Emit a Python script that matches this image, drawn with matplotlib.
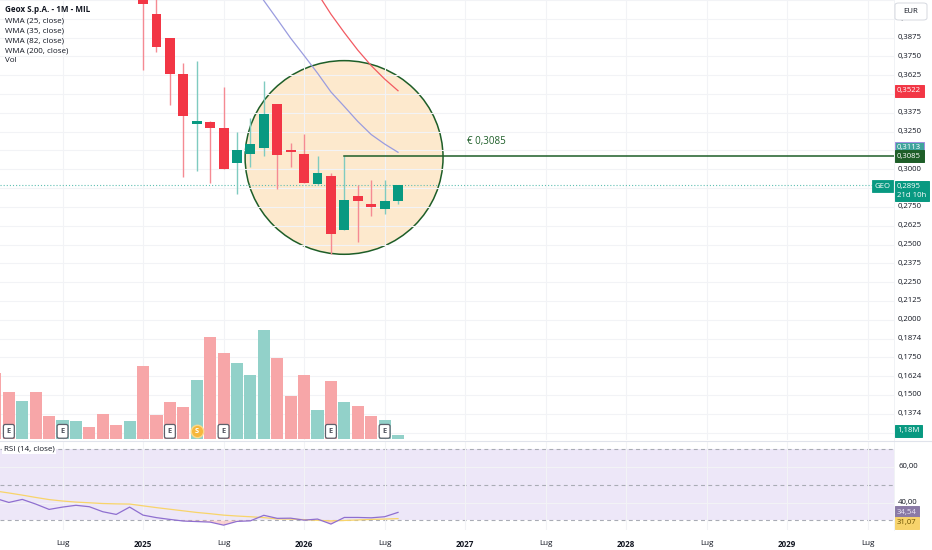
import matplotlib
matplotlib.use("Agg")
import matplotlib.pyplot as plt
import matplotlib.transforms as mtransforms
from matplotlib.patches import Ellipse, FancyBboxPatch
from matplotlib.lines import Line2D
import numpy as np

plt.rcParams['font.family'] = ['Open Sans', 'DejaVu Sans']

# ---------------- data ----------------
months = ["2024-02", "2024-03", "2024-04", "2024-05", "2024-06", "2024-07", "2024-08",
          "2024-09", "2024-10", "2024-11", "2024-12",
          "2025-01", "2025-02", "2025-03", "2025-04", "2025-05", "2025-06", "2025-07",
          "2025-08", "2025-09", "2025-10", "2025-11", "2025-12",
          "2026-01", "2026-02", "2026-03", "2026-04", "2026-05", "2026-06", "2026-07", "2026-08"]

opens = [0.660, 0.630, 0.600, 0.620, 0.580, 0.550, 0.570, 0.580, 0.540, 0.500, 0.460,
         0.470, 0.4032, 0.3873, 0.3630, 0.3302, 0.3313, 0.3273, 0.3043, 0.3103, 0.3140, 0.3432, 0.3125,
         0.3101, 0.2904, 0.2955, 0.2594, 0.2822, 0.2767, 0.2738, 0.2789]
highs = [0.680, 0.650, 0.640, 0.630, 0.590, 0.580, 0.600, 0.590, 0.550, 0.510, 0.490,
         0.480, 0.4180, 0.3873, 0.3707, 0.3720, 0.3319, 0.3550, 0.3251, 0.3342, 0.3590, 0.3432, 0.3174,
         0.3233, 0.3087, 0.2973, 0.3085, 0.2893, 0.2926, 0.2926, 0.2893]
lows = [0.620, 0.580, 0.590, 0.570, 0.540, 0.540, 0.550, 0.530, 0.490, 0.450, 0.440,
        0.3663, 0.3777, 0.3424, 0.2946, 0.2988, 0.2908, 0.2999, 0.2833, 0.3014, 0.3087, 0.2866, 0.3014,
        0.2911, 0.2898, 0.2439, 0.2594, 0.2517, 0.2687, 0.2705, 0.2771]
closes = [0.630, 0.600, 0.620, 0.580, 0.550, 0.570, 0.580, 0.540, 0.500, 0.460, 0.470,
          0.4099, 0.3815, 0.3630, 0.3357, 0.3324, 0.3273, 0.2999, 0.3130, 0.3165, 0.3369, 0.3092, 0.3118,
          0.2911, 0.2973, 0.2572, 0.2793, 0.2787, 0.2752, 0.2787, 0.2895]

volumes_m = [19.8, 14.1, 11.4, 14.1, 6.9, 5.7, 5.4, 3.6, 7.5, 4.2, 5.4,
             21.9, 7.2, 11.1, 9.6, 17.7, 30.6, 25.8, 22.8, 19.2, 32.7, 24.3, 12.9,
             19.2, 8.7, 17.4, 11.1, 9.9, 6.9, 5.7, 1.18]

nan = float('nan')
wma25 = [nan] * 18 + [0.4386, 0.4253, 0.4121, 0.3997, 0.3871,
                      0.3756, 0.3639, 0.3514, 0.3417, 0.3318, 0.3231, 0.3168, 0.3113]
wma35 = [nan] * 22 + [0.4430, 0.4300, 0.4170, 0.4031, 0.3908, 0.3792, 0.3689, 0.3600, 0.3522]

rsi = [42.4, 40.1, 41.8, 39.2, 36.2, 37.5, 38.5, 37.7, 34.9, 33.4, 37.5,
       33.0, 31.6, 30.6, 29.7, 29.4, 29.1, 27.4, 29.5, 29.8, 32.9, 31.2, 31.3,
       30.2, 30.8, 28.0, 31.7, 31.7, 31.5, 32.1, 34.54]
rsi_ma = [46.5, 45.4, 44.2, 42.9, 41.7, 40.9, 40.3, 39.9, 39.5, 39.3, 39.2,
          38.2, 37.2, 36.3, 35.4, 34.5, 33.8, 33.0, 32.5, 32.1, 31.6, 30.9, 30.8,
          30.5, 30.1, 29.8, 30.0, 30.3, 30.6, 30.8, 31.07]

earnings_months = ["2024-03", "2024-07", "2025-03", "2025-07", "2026-03", "2026-07"]
split_months = ["2025-05"]

level = 0.3085
level_month = "2026-04"

tick_labels = ["Lug", "2025", "Lug", "2026", "Lug", "2027", "Lug", "2028", "Lug", "2029", "Lug"]
tick_months = [(2024, 7), (2025, 1), (2025, 7), (2026, 1), (2026, 7), (2027, 1),
               (2027, 7), (2028, 1), (2028, 7), (2029, 1), (2029, 7)]

price_ticks = [0.4000, 0.3875, 0.3750, 0.3625, 0.3375, 0.3250, 0.3000, 0.2750, 0.2625,
               0.2500, 0.2375, 0.2250, 0.2125, 0.2000, 0.1874, 0.1750, 0.1624, 0.1500, 0.1374]

# ---------------- style ----------------
RED = '#F23645'
GREEN = '#089981'
RED_WICK = '#f58a93'
GREEN_WICK = '#7fcbc0'
VOL_RED = '#f7a6a8'
VOL_GREEN = '#92d1c9'
GRID = '#f2f3f6'
TXT = '#131722'
DKGREEN = '#1e5e28'

W, H = 932, 550
fig = plt.figure(figsize=(W / 100, H / 100), dpi=100)
fig.patch.set_facecolor('white')

PANE_R = 894  # right edge of panes in px


def rect(x0, y0, x1, y1):
    return [x0 / W, 1 - y1 / H, (x1 - x0) / W, (y1 - y0) / H]


x = np.arange(len(months))


def mpos(y, m):
    return (y - 2024) * 12 + (m - 2)


xlim = (0.34, 66.96)

ax = fig.add_axes(rect(0, 0, PANE_R, 440))
axv = fig.add_axes(rect(0, 0, PANE_R, 440))
axr = fig.add_axes(rect(0, 441, PANE_R, 530))
ax.set_zorder(0)
axv.set_zorder(1)
axv.patch.set_visible(False)

for a in (ax, axv, axr):
    for s in a.spines.values():
        s.set_visible(False)
    a.set_xlim(*xlim)

ax.set_ylim(0.12008, 0.41205)
axv.set_ylim(-0.3, 131.7)
axr.set_ylim(24.68, 74.48)

tpos = [mpos(y, m) for (y, m) in tick_months]

# grid
ax.set_xticks(tpos)
ax.set_yticks(np.arange(0.125, 0.42, 0.0125))
ax.tick_params(left=False, bottom=False, labelleft=False, labelbottom=False)
ax.grid(True, color=GRID, lw=0.8)
axv.set_xticks([]); axv.set_yticks([])
axr.set_yticks([40, 60])
axr.set_xticks(tpos)
axr.grid(True, color=GRID, lw=0.8)
axr.tick_params(left=False, labelleft=False, length=0, pad=7)
axr.set_xticklabels(tick_labels, fontsize=5.8, color=TXT)
for lab in axr.get_xticklabels():
    if lab.get_text().isdigit():
        lab.set_fontweight('bold')

# ellipse annotation
li = months.index(level_month)
ell = Ellipse((li - 0.02, 0.30785), width=14.75, height=0.1287,
              facecolor='#fde9cd', edgecolor=DKGREEN, lw=1.1, zorder=1)
ax.add_patch(ell)

# candles
up = [c >= o for o, c in zip(opens, closes)]
for i in x:
    wc = GREEN_WICK if up[i] else RED_WICK
    ax.vlines(i, lows[i], highs[i], color=wc, lw=1.0, zorder=3)
bot = [min(o, c) for o, c in zip(opens, closes)]
hgt = [max(abs(c - o), 0.0007) for o, c in zip(opens, closes)]
ax.bar(x, hgt, bottom=bot, width=0.74, color=[GREEN if u else RED for u in up],
       edgecolor='none', zorder=4)

# WMA lines
ax.plot(x, wma25, color='#9a9cdf', lw=0.9, zorder=5)
ax.plot(x, wma35, color='#f25a62', lw=0.9, zorder=5)

# level line and text
ax.plot([li, xlim[1]], [level, level], color=DKGREEN, lw=1.1, zorder=6)
ax.annotate("€ 0,3085", xy=(35.14, level), xytext=(0, 6.5), textcoords='offset points',
            fontsize=7, color=DKGREEN, ha='left', va='bottom', zorder=6)

# current price dotted
ax.axhline(closes[-1], color='#5fbfb2', lw=0.8, ls=(0, (1, 1.8)), zorder=2)

# volume
axv.bar(x, volumes_m, width=0.9, color=[VOL_GREEN if u else VOL_RED for u in up],
        edgecolor='none', zorder=2)
for m in earnings_months:
    axv.text(months.index(m), 2.3, "E", fontsize=5.4, color='#50535e', ha='center', va='center',
             fontweight='bold', zorder=5,
             bbox=dict(boxstyle='round,pad=0.45,rounding_size=0.25', fc='white', ec='#5d606b', lw=0.9))
for m in split_months:
    xi = months.index(m)
    axv.scatter([xi], [2.3], s=80, color='#f6b73c', zorder=5, edgecolors='#fbd88a', linewidths=1.0)
    axv.text(xi, 2.3, "S", fontsize=5.4, color='white', ha='center', va='center',
             fontweight='bold', zorder=6)

# RSI
axr.axhspan(30, 70, color='#ede7f8', zorder=0, lw=0)
for lv in (70, 50, 30):
    axr.axhline(lv, color='#a9acb5', lw=0.8, ls=(0, (3.5, 3)), zorder=1)
r = np.array(rsi)
axr.fill_between(x, r, 30, where=r < 30, interpolate=True, color='#f7b6b6', alpha=0.6, zorder=2, lw=0)
axr.plot(x, rsi_ma, color='#f8d46a', lw=0.9, zorder=3)
axr.plot(x, rsi, color='#8f6fd0', lw=0.9, zorder=4)
axr.text(0.004, 70, "RSI (14, close)", transform=mtransforms.blended_transform_factory(axr.transAxes, axr.transData),
         fontsize=5.8, color=TXT, ha='left', va='center', zorder=6,
         bbox=dict(boxstyle='square,pad=0.15', fc='white', ec='none'))

# legend text
legend_lines = [("Geox S.p.A. - 1M - MIL", 'bold'), ("WMA (25, close)", 'normal'),
                ("WMA (35, close)", 'normal'), ("WMA (82, close)", 'normal'),
                ("WMA (200, close)", 'normal'), ("Vol", 'normal')]
ys = [10, 20.5, 30.5, 41, 51, 61]
for (t, fw), yy in zip(legend_lines, ys):
    fig.text(5 / W, 1 - yy / H, t, fontsize=5.8, color=TXT, fontweight=fw, ha='left', va='center')

# right price scale labels
bt = mtransforms.blended_transform_factory(ax.transAxes, ax.transData)
xr = 898 / PANE_R
for p in price_ticks:
    ax.text(xr, p, f"{p:.4f}".replace('.', ','), transform=bt, fontsize=5.6, color=TXT,
            ha='left', va='center', clip_on=False)


def tag(a, val, text, fc, tc, dy=0, ec=None, va='center', trans=None):
    a.annotate(text, xy=(1.0, val), xycoords=trans, xytext=(2.2, dy), textcoords='offset points',
               fontsize=5.6, color=tc, ha='left', va=va, zorder=20, annotation_clip=False,
               linespacing=1.25,
               bbox=dict(boxstyle='square,pad=0.32', fc=fc, ec=ec or fc, lw=0.7))


tag(ax, wma35[-1], "0,3522", RED, 'white', trans=bt)
tag(ax, wma25[-1], "0,3113", '#3fa49c', 'white', dy=3.3, ec='#a08fe0', trans=bt)
tag(ax, level, "0,3085", DKGREEN, 'white', trans=bt)
tag(ax, closes[-1], "0,2895\n21d 10h", GREEN, 'white', dy=1.2, va='top', trans=bt)
ax.annotate("GEO", xy=(1.0, closes[-1]), xycoords=bt, xytext=(-2.6, -0.8), textcoords='offset points',
            fontsize=5.6, color='white', ha='right', va='center', zorder=20, annotation_clip=False,
            bbox=dict(boxstyle='square,pad=0.3', fc=GREEN, ec=GREEN, lw=0.6))

btv = mtransforms.blended_transform_factory(axv.transAxes, axv.transData)
tag(axv, volumes_m[-1], "1,18M", GREEN, 'white', dy=3.2, trans=btv)

btr = mtransforms.blended_transform_factory(axr.transAxes, axr.transData)
for v in (60, 40):
    axr.text(xr, v, f"{v:.2f}".replace('.', ','), transform=btr, fontsize=5.6, color=TXT,
             ha='left', va='center', clip_on=False)
tag(axr, rsi[-1], "34,54", '#8a7aa6', '#e8e2f5', trans=btr)
tag(axr, rsi_ma[-1], "31,07", '#f7d36b', '#6b5200', dy=-3.0, trans=btr)

# separators
fig.add_artist(Line2D([0, 1], [1 - 440.5 / H, 1 - 440.5 / H], transform=fig.transFigure,
                      color='#e0e3eb', lw=0.8))
fig.add_artist(Line2D([PANE_R / W, PANE_R / W], [1 - 530 / H, 1], transform=fig.transFigure,
                      color='#eef0f4', lw=0.6, zorder=0))

# EUR box
box = FancyBboxPatch((895 / W, 1 - 20 / H), 32 / W, 17 / H, boxstyle='round,pad=0,rounding_size=0.004',
                     transform=fig.transFigure, fc='white', ec='#d6d9e0', lw=0.7, zorder=30)
fig.add_artist(box)
fig.text(911 / W, 1 - 11.5 / H, "EUR", fontsize=5.6, color=TXT, ha='center', va='center', zorder=31)

fig.savefig("out.png", dpi=100)
